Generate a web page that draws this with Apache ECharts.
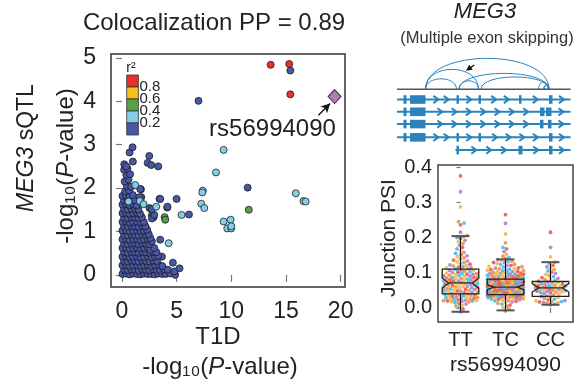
<!DOCTYPE html>
<html><head><meta charset="utf-8">
<script src="https://cdn.jsdelivr.net/npm/echarts@6/dist/echarts.min.js"></script>
<style>html,body{margin:0;padding:0;background:#fff}#c{width:582px;height:387px}</style>
</head><body><div id="c"></div>
<script>
const FONT = '"Liberation Sans", Arial, Helvetica, sans-serif';

// ---------- Scatter: [T1D -log10 P, MEG3 sQTL -log10 P] by LD r2 bin ----------
const xTicks = [0, 5, 10, 15, 20];
const yTicks = [0, 1, 2, 3, 4, 5];
const ldRed = [[13.6,4.84],[15.3,4.86],[15.4,4.16]];
const ldOrange = [];
const ldGreen = [[11.6,1.50],[3.9,1.33],[3.96,1.27]];
const ldLightBlue = [[9.3,2.88],[8.6,2.36],[7.4,1.94],[7.35,1.90],[15.9,1.88],[16.6,1.70],[16.8,1.69],
  [7.25,1.64],[7.53,1.54],[5.45,1.38],[9.3,1.23],[9.94,1.27],[9.63,1.07],[10.0,1.07],[10.0,1.12],
  [1.22,2.07],[1.64,1.70],[1.98,1.63],[3.14,1.57],[4.27,0.73],[0.6,1.69]];
const ldDarkBlue = [
  [15.4,4.71],[7.0,4.01],[11.5,2.01],
  [0.05,0.02],[0.38,0.03],[0.7,0.01],[1.02,0.03],[1.35,0.02],[1.68,0.01],[2.0,0.03],[2.33,0.02],[2.66,0.02],[3.0,0.01],[3.32,0.03],[3.66,0.02],[4.0,0.02],[4.4,0.03],[4.87,0.0],[4.8,0.08],
  [0.2,0.12],[0.52,0.11],[0.85,0.13],[1.18,0.12],[1.52,0.11],[1.85,0.13],[2.18,0.12],[2.5,0.11],[2.84,0.13],[3.17,0.12],[3.5,0.11],[3.85,0.13],[4.2,0.12],[5.27,0.15],[4.66,0.28],
  [0.05,0.22],[0.38,0.23],[0.7,0.21],[1.03,0.22],[1.36,0.23],[1.7,0.21],[2.03,0.22],[2.36,0.23],[2.7,0.21],[3.03,0.22],[3.36,0.23],[3.7,0.2],
  [0.2,0.32],[0.53,0.31],[0.86,0.33],[1.2,0.32],[1.53,0.31],[1.86,0.33],[2.2,0.32],[2.53,0.31],[2.86,0.33],[3.2,0.32],[3.66,0.42],
  [0.05,0.42],[0.38,0.43],[0.7,0.41],[1.03,0.42],[1.36,0.43],[1.7,0.41],[2.03,0.42],[2.36,0.43],[2.7,0.41],[3.03,0.42],[3.3,0.44],
  [0.2,0.52],[0.53,0.51],[0.86,0.53],[1.2,0.52],[1.53,0.51],[1.86,0.53],[2.2,0.52],[2.53,0.51],[2.86,0.53],[3.15,0.52],
  [0.05,0.62],[0.38,0.63],[0.7,0.61],[1.03,0.62],[1.36,0.63],[1.7,0.61],[2.03,0.62],[2.36,0.63],[2.6,0.58],[2.95,0.62],
  [0.2,0.72],[0.53,0.71],[0.86,0.73],[1.2,0.72],[1.53,0.71],[1.86,0.73],[2.2,0.72],[2.5,0.71],[2.74,0.77],[3.5,0.81],
  [0.05,0.82],[0.38,0.83],[0.7,0.81],[1.03,0.82],[1.36,0.83],[1.7,0.81],[2.03,0.82],[2.36,0.83],[2.6,0.85],
  [0.2,0.92],[0.53,0.91],[0.86,0.93],[1.2,0.92],[1.53,0.91],[1.86,0.93],[2.2,0.92],[2.45,0.94],
  [0.05,1.02],[0.38,1.03],[0.7,1.01],[1.03,1.02],[1.36,1.03],[1.7,1.01],[2.0,1.02],[2.3,1.04],
  [0.2,1.12],[0.53,1.11],[0.86,1.13],[1.2,1.12],[1.53,1.11],[1.86,1.13],[2.15,1.12],
  [0.05,1.22],[0.38,1.23],[0.7,1.21],[1.03,1.22],[1.36,1.23],[1.7,1.21],[2.0,1.22],
  [0.2,1.32],[0.53,1.31],[0.86,1.33],[1.2,1.32],[1.53,1.31],[1.82,1.33],[2.74,1.38],[2.89,1.33],[2.74,1.30],
  [0.05,1.42],[0.38,1.43],[0.7,1.41],[1.03,1.42],[1.36,1.43],[1.65,1.41],[2.96,1.38],[6.13,1.39],
  [0.2,1.52],[0.53,1.51],[0.86,1.53],[1.2,1.52],[1.5,1.51],[2.52,1.54],[2.74,1.51],[4.14,1.55],[4.17,1.57],
  [0.05,1.62],[0.38,1.63],[0.7,1.61],[1.05,1.62],[1.35,1.6],
  [0.2,1.72],[0.53,1.71],[0.86,1.73],[1.15,1.72],[1.77,1.79],[1.61,1.79],[3.44,1.75],[3.5,1.75],[5.0,1.75],
  [0.05,1.82],[0.38,1.83],[0.7,1.81],[1.0,1.84],[1.74,1.97],
  [0.3,1.93],[0.65,1.95],[0.45,2.05],[0.85,2.03],[0.25,2.15],[0.6,2.2],[0.4,2.3],[0.75,2.32],[0.2,2.42],[0.5,2.45],
  [0.21,2.55],[0.4,2.5],[1.0,2.61],[0.7,2.82],[0.97,2.94],[1.67,1.98],
  [2.5,2.74],[2.35,2.58],[2.68,2.53],[3.32,2.5]
];
const leadSnp = [[19.45,4.11]];
const leadSnpName = 'rs56994090';
const ldLegendLabels = ['0.8','0.6','0.4','0.2'];

// ---------- Gene model (MEG3), positions in kb ----------
const txRow = [0.82, 1.81, 2.80, 3.87, 4.90];
const txStart = [0, 0, 0, 0, 11.7];
const txEnd = [34.7, 34.7, 34.7, 34.7, 34.7];
const txExons = [
  [[1.3,1.9],[2.6,5.7],[11.9,12.4],[16.3,16.8],[24.4,24.9],[30.4,31.1]],
  [[1.3,1.9],[2.6,5.7],[28.6,29.5],[29.8,30.9]],
  [[1.3,1.9],[2.6,5.7],[28.6,29.3],[30.2,30.9]],
  [[1.3,1.9],[2.6,5.7],[11.9,12.4],[16.3,16.8],[30.4,31.1]],
  [[11.9,12.4],[24.3,25.1],[30.4,31.1]]
];
const junctionStart  = [5.7, 5.7, 12.4, 16.8, 5.7, 12.4, 28.3, 29.5, 29.3];
const junctionEnd    = [30.4, 16.3, 30.4, 30.4, 11.9, 16.3, 30.4, 30.4, 30.2];
const junctionHeight = [2.50, 1.61, 1.29, 1.00, 0.85, 0.69, 0.56, 0.40, 0.32];
const arrowFrom = [15.46, -1.96];
const arrowTo = [13.8, -1.50];

// ---------- Junction PSI by genotype ----------
const genotypes = ['TT','TC','CC'];
const psiTicks = [0, 0.1, 0.2, 0.3, 0.4];
const whiskerLow  = [-0.011, -0.007, 0.009];
const q1          = [0.040, 0.038, 0.033];
const notchLow    = [0.056, 0.052, 0.045];
const median      = [0.071, 0.059, 0.057];
const notchHigh   = [0.085, 0.066, 0.069];
const q3          = [0.110, 0.082, 0.075];
const whiskerHigh = [0.204, 0.138, 0.130];
const psiTT = [0.375,0.330,0.287,0.245,0.241,0.236,0.215,0.207,0.203,0.200,0.197,0.192,0.188,0.183,0.178,0.172,0.168,0.163,0.158,0.155,0.151,0.148,0.146,0.142,0.139,0.136,0.133,0.131,0.129,0.126,0.124,0.122,0.121,0.119,0.117,0.116,0.114,0.113,0.111,0.110,0.108,0.107,0.106,0.104,0.103,0.102,0.101,0.099,0.098,0.097,0.096,0.095,0.094,0.093,0.092,0.091,0.090,0.089,0.088,0.087,0.086,0.085,0.084,0.083,0.082,0.081,0.080,0.079,0.078,0.077,0.077,0.076,0.075,0.074,0.073,0.072,0.072,0.071,0.070,0.069,0.068,0.067,0.066,0.065,0.064,0.063,0.062,0.061,0.060,0.059,0.058,0.057,0.056,0.055,0.054,0.053,0.052,0.051,0.050,0.049,0.048,0.047,0.046,0.045,0.044,0.043,0.042,0.041,0.040,0.039,0.038,0.037,0.036,0.035,0.034,0.033,0.032,0.031,0.030,0.029,0.028,0.027,0.026,0.025,0.024,0.023,0.022,0.021,0.021,0.020,0.020,0.019,0.018,0.017,0.015,0.013,0.011,0.008,0.005,0.002,-0.003,-0.011];
const psiTC = [0.265,0.240,0.210,0.185,0.172,0.168,0.160,0.152,0.147,0.143,0.139,0.137,0.135,0.133,0.131,0.129,0.128,0.126,0.124,0.123,0.121,0.120,0.118,0.117,0.116,0.114,0.113,0.112,0.111,0.110,0.109,0.108,0.107,0.106,0.105,0.104,0.103,0.102,0.101,0.100,0.099,0.099,0.098,0.097,0.096,0.096,0.095,0.094,0.093,0.093,0.092,0.091,0.090,0.090,0.089,0.088,0.087,0.087,0.086,0.085,0.085,0.084,0.083,0.083,0.082,0.081,0.081,0.080,0.080,0.079,0.079,0.078,0.078,0.077,0.077,0.076,0.076,0.075,0.075,0.074,0.074,0.073,0.073,0.072,0.072,0.071,0.071,0.070,0.070,0.069,0.069,0.068,0.068,0.067,0.067,0.066,0.066,0.065,0.065,0.064,0.064,0.063,0.063,0.062,0.062,0.061,0.061,0.060,0.060,0.059,0.059,0.058,0.058,0.057,0.057,0.056,0.056,0.055,0.055,0.054,0.054,0.053,0.053,0.052,0.052,0.051,0.051,0.050,0.050,0.049,0.049,0.048,0.048,0.047,0.047,0.046,0.046,0.045,0.045,0.044,0.044,0.043,0.043,0.042,0.042,0.041,0.041,0.040,0.040,0.039,0.039,0.038,0.038,0.037,0.037,0.036,0.036,0.035,0.035,0.034,0.034,0.033,0.033,0.032,0.032,0.031,0.031,0.030,0.030,0.029,0.029,0.028,0.027,0.026,0.025,0.024,0.023,0.022,0.021,0.020,0.019,0.017,0.015,0.013,0.011,0.008,0.005,0.001,-0.003,-0.007];
const psiCC = [0.215,0.172,0.145,0.130,0.126,0.121,0.117,0.113,0.109,0.105,0.101,0.098,0.095,0.092,0.089,0.086,0.084,0.082,0.080,0.078,0.076,0.074,0.072,0.071,0.070,0.068,0.067,0.066,0.065,0.064,0.063,0.062,0.061,0.060,0.059,0.058,0.057,0.056,0.055,0.054,0.053,0.052,0.051,0.050,0.049,0.048,0.047,0.046,0.045,0.044,0.043,0.041,0.039,0.037,0.035,0.033,0.031,0.029,0.027,0.025,0.023,0.021,0.020,0.019,0.018,0.017,0.016,0.015,0.013,0.011,0.009];

// ---------- styles ----------
const RED='#e8312b', ORANGE='#f5c01a', GREEN='#55a143', LBLUE='#83cfe9', DBLUE='#4857a6';
const GENE='#2a84bb';
const DOTCOLORS=['#e8553f','#f7b536','#3ab7ea','#a87dc4','#f08a3c'];

// beeswarm layout (pixel-based offsets)
function swarm(values, center, pxX, pxY, d, maxW){
  const idx = values.map((v,i)=>i).sort((a,b)=>values[a]-values[b]);
  const placed=[]; const out=[];
  idx.forEach(i=>{
    const y = values[i]*pxY;
    let bestOff=0, bestDist=-1;
    for(let k=0;k<=maxW*4;k++){
      const off = (k%2===1?1:-1)*Math.ceil(k/2)*0.5;
      if(Math.abs(off)>maxW) break;
      let minD=Infinity;
      for(let j=placed.length-1;j>=0;j--){
        const p=placed[j]; if(y-p[1]>d) break;
        const dd=Math.hypot(off-p[0], y-p[1]); if(dd<minD) minD=dd;
      }
      if(minD>=d){bestOff=off;break;}
      if(minD>bestDist){bestDist=minD;bestOff=off;}
    }
    placed.push([bestOff,y]);
    out.push({value:[center+bestOff/pxX, values[i]], itemStyle:{color:DOTCOLORS[(i*3)%5]}});
  });
  return out;
}
const PXX=45, PXY=157/0.446;
const dots = [].concat(swarm(psiTT,0,PXX,PXY,3.6,17), swarm(psiTC,1,PXX,PXY,3.6,18), swarm(psiCC,2,PXX,PXY,3.6,15));

function sc(name,data,color,z){
  return {type:'scatter', name, xAxisIndex:0, yAxisIndex:0, data, symbolSize:7, z:z||2,
    itemStyle:{color, borderColor:'#1a1a1a', borderWidth:0.8, opacity:1}, silent:true};
}

const chart = echarts.init(document.getElementById('c'), null, {renderer:'canvas'});
const axisTxt = {color:'#222', fontFamily:FONT};
const option = {
  animation:false,
  textStyle:{fontFamily:FONT},
  grid:[
    {left:111, top:54, width:234, height:233, show:true, borderColor:'#333', borderWidth:1.5, backgroundColor:'transparent', containLabel:false, outerBoundsMode:'none'},
    {left:397, top:43.7, width:174, height:112.5, show:false, containLabel:false, outerBoundsMode:'none'},
    {left:438, top:165, width:135, height:157, show:true, borderColor:'#444', borderWidth:1.5, backgroundColor:'transparent', containLabel:false, outerBoundsMode:'none'}
  ],
  xAxis:[
    {gridIndex:0, type:'value', min:-1, max:20.4, splitLine:{show:false}, axisLine:{show:false},
      axisTick:{show:true, inside:false, length:7, customValues:xTicks, lineStyle:{color:'#777', width:1.2}},
      axisLabel:{customValues:xTicks, fontSize:23, margin:13, ...axisTxt}},
    {gridIndex:1, type:'value', min:0, max:34.8, show:false},
    {gridIndex:2, type:'value', min:-0.5, max:2.5, splitLine:{show:false}, axisLine:{show:false},
      axisTick:{show:true, inside:false, length:5, customValues:[0,1,2], lineStyle:{color:'#777', width:1.2}},
      axisLabel:{customValues:[0,1,2], formatter:v=>genotypes[Math.round(v)], fontSize:20, margin:8, ...axisTxt}}
  ],
  yAxis:[
    {gridIndex:0, type:'value', min:-0.28, max:5.09, splitLine:{show:false}, axisLine:{show:false},
      axisTick:{show:true, inside:false, length:6, customValues:yTicks, lineStyle:{color:'#777', width:1.2}},
      axisLabel:{customValues:yTicks, fontSize:23, margin:15, ...axisTxt}},
    {gridIndex:1, type:'value', min:-3.68, max:5.39, inverse:true, show:false},
    {gridIndex:2, type:'value', min:-0.04, max:0.406, splitLine:{show:false}, axisLine:{show:false},
      axisTick:{show:true, inside:false, length:4, customValues:psiTicks, lineStyle:{color:'#777', width:1.2}},
      axisLabel:{customValues:psiTicks, formatter:v=>v.toFixed(1), fontSize:20, margin:6, ...axisTxt}}
  ],
  series:[
    sc('0-0.2', ldDarkBlue, DBLUE, 2),
    sc('0.2-0.4', ldLightBlue, LBLUE, 3),
    sc('0.4-0.6', ldGreen, GREEN, 4),
    sc('0.6-0.8', ldOrange, ORANGE, 5),
    sc('0.8-1', ldRed, RED, 6),
    {type:'scatter', name:leadSnpName, xAxisIndex:0, yAxisIndex:0, data:leadSnp, symbol:'diamond', symbolSize:[13,14], z:7,
      itemStyle:{color:'#a35aa7', borderColor:'#111', borderWidth:1},
      markLine:{silent:true, symbol:['none','arrow'], symbolSize:[7,9], label:{show:false},
        lineStyle:{color:'#111', width:1.3, type:'solid'},
        data:[[{coord:[17.97,3.68]},{coord:[19.04,3.95]}]]}},
    // junction arcs
    {type:'custom', xAxisIndex:1, yAxisIndex:1, z:3, silent:true,
      data: junctionStart.map((s,i)=>[s, junctionEnd[i], junctionHeight[i]]),
      renderItem:(params, api)=>{
        const a=api.coord([api.value(0),0]), b=api.coord([api.value(1),0]);
        const top=api.coord([0,-api.value(2)]); const base=api.coord([0,0]);
        const h=(base[1]-top[1])*4/3;
        return {type:'bezierCurve', shape:{x1:a[0],y1:a[1],x2:b[0],y2:b[1],cpx1:a[0],cpy1:a[1]-h,cpx2:b[0],cpy2:b[1]-h},
          style:{stroke:GENE, lineWidth:1, fill:null}};
      }},
    // gene baseline + pointer arrow
    {type:'custom', xAxisIndex:1, yAxisIndex:1, z:4, silent:true,
      data:[[0,34.7]],
      renderItem:(params, api)=>{
        const a=api.coord([api.value(0),0]), b=api.coord([api.value(1),0]);
        const f=api.coord(arrowFrom), t=api.coord(arrowTo);
        const ang=Math.atan2(t[1]-f[1], t[0]-f[0]);
        const L=6, W=3;
        const hx=t[0]-L*Math.cos(ang), hy=t[1]-L*Math.sin(ang);
        return {type:'group', children:[
          {type:'line', shape:{x1:a[0],y1:a[1],x2:b[0],y2:b[1]}, style:{stroke:'#555', lineWidth:1.5}},
          {type:'line', shape:{x1:f[0],y1:f[1],x2:hx,y2:hy}, style:{stroke:'#111', lineWidth:1.3}},
          {type:'polygon', shape:{points:[[t[0],t[1]],[hx+W*Math.sin(ang),hy-W*Math.cos(ang)],[hx-W*Math.sin(ang),hy+W*Math.cos(ang)]]}, style:{fill:'#111'}}
        ]};
      }},
    // transcripts
    {type:'custom', xAxisIndex:1, yAxisIndex:1, z:3, silent:true,
      data: txRow.map((y,i)=>[txStart[i], y]),
      renderItem:(params, api)=>{
        const r=params.dataIndex, yv=txRow[r], s=txStart[r], e=txEnd[r], ex=txExons[r];
        const p0=api.coord([s,yv]), p1=api.coord([e,yv]);
        const ch=[{type:'line', shape:{x1:p0[0],y1:p0[1],x2:p1[0],y2:p1[1]}, style:{stroke:GENE, lineWidth:2}}];
        ex.forEach(([a,b])=>{const pa=api.coord([a,yv]), pb=api.coord([b,yv]);
          ch.push({type:'rect', shape:{x:pa[0], y:pa[1]-4.3, width:Math.max(pb[0]-pa[0],2.5), height:8.6}, style:{fill:GENE}});});
        const feats=[[s,s]].concat(ex).concat([[e,e]]);
        for(let k=0;k<feats.length-1;k++){
          const g0=feats[k][1], g1=feats[k+1][0], len=g1-g0, n=Math.floor(len/3);
          for(let j=1;j<=n;j++){const c=api.coord([g0+len*j/(n+1), yv]);
            ch.push({type:'polyline', shape:{points:[[c[0]-2.5,c[1]-3.6],[c[0]+2.5,c[1]],[c[0]-2.5,c[1]+3.6]]}, style:{stroke:GENE, lineWidth:2, fill:null}});}
        }
        return {type:'group', children:ch};
      }},
    {type:'scatter', xAxisIndex:2, yAxisIndex:2, data:dots, symbolSize:3.8, z:4, silent:true,
      itemStyle:{opacity:0.85}},
    // notched boxes (drawn over the dots)
    {type:'custom', xAxisIndex:2, yAxisIndex:2, z:6, silent:true,
      data: genotypes.map((g,i)=>[i, whiskerLow[i], q1[i], notchLow[i], median[i], notchHigh[i], q3[i], whiskerHigh[i]]),
      renderItem:(params, api)=>{
        const i=api.value(0);
        const c=api.coord([i,0])[0];
        const Y=k=>api.coord([i,api.value(k)])[1];
        const hw=18.3, ind=6.5, cap=9;
        const L=c-hw, R=c+hw;
        const wl=Y(1), bq1=Y(2), nl=Y(3), md=Y(4), nh=Y(5), bq3=Y(6), wh=Y(7);
        return {type:'group', children:[
          {type:'line', shape:{x1:c,y1:bq3,x2:c,y2:wh}, style:{stroke:'#111', lineWidth:1}},
          {type:'line', shape:{x1:c,y1:bq1,x2:c,y2:wl}, style:{stroke:'#111', lineWidth:1}},
          {type:'line', shape:{x1:c-cap,y1:wh,x2:c+cap,y2:wh}, style:{stroke:'#555', lineWidth:2}},
          {type:'line', shape:{x1:c-cap,y1:wl,x2:c+cap,y2:wl}, style:{stroke:'#555', lineWidth:2}},
          {type:'polygon', shape:{points:[[L,bq3],[R,bq3],[R,nh],[R-ind,md],[R,nl],[R,bq1],[L,bq1],[L,nl],[L+ind,md],[L,nh]]},
            style:{stroke:'#222', lineWidth:1.3, fill:'rgba(255,255,255,0)'}},
          {type:'line', shape:{x1:L+ind,y1:md,x2:R-ind,y2:md}, style:{stroke:'#333', lineWidth:1.3}}
        ]};
      }}
  ],
  graphic:[
    {type:'text', x:214, y:23, style:{text:'Colocalization PP = 0.89', fontSize:24, fontFamily:FONT, fill:'#222', textAlign:'center', textVerticalAlign:'middle'}},
    {type:'text', x:27, y:148, rotation:Math.PI/2, style:{text:'{it|MEG3} sQTL', fontSize:23, fontFamily:FONT, fill:'#222', textAlign:'center', textVerticalAlign:'middle',
      rich:{it:{fontStyle:'italic', fontSize:23, fontFamily:FONT, fill:'#222'}}}},
    {type:'text', x:66, y:166, rotation:Math.PI/2, style:{text:'-log\u2081\u2080({it|P}-value)', fontSize:24, fontFamily:FONT, fill:'#222', textAlign:'center', textVerticalAlign:'middle',
      rich:{it:{fontStyle:'italic', fontSize:24, fontFamily:FONT, fill:'#222'}}}},
    {type:'text', x:218, y:337, style:{text:'T1D', fontSize:24, fontFamily:FONT, fill:'#222', textAlign:'center', textVerticalAlign:'middle'}},
    {type:'text', x:220, y:367, style:{text:'-log\u2081\u2080({it|P}-value)', fontSize:24, fontFamily:FONT, fill:'#222', textAlign:'center', textVerticalAlign:'middle',
      rich:{it:{fontStyle:'italic', fontSize:24, fontFamily:FONT, fill:'#222'}}}},
    {type:'text', x:272.5, y:129, style:{text:leadSnpName, fontSize:24, fontFamily:FONT, fill:'#222', textAlign:'center', textVerticalAlign:'middle'}},
    // LD legend
    {type:'text', x:131, y:68, style:{text:'r\u00b2', fontSize:14, fontFamily:FONT, fill:'#222', textAlign:'center', textVerticalAlign:'middle'}},
    ...[RED,ORANGE,GREEN,LBLUE,DBLUE].map((c,i)=>({type:'rect', shape:{x:126.7, y:75+i*12, width:11.7, height:12}, style:{fill:c, stroke:'#333', lineWidth:0.8}})),
    ...ldLegendLabels.map((t,i)=>({type:'text', x:139.5, y:86.5+i*12, style:{text:t, fontSize:15, fontFamily:FONT, fill:'#222', textAlign:'left', textVerticalAlign:'middle'}})),
    // gene panel titles
    {type:'text', x:485, y:12, style:{text:'MEG3', fontSize:22, fontStyle:'italic', fontFamily:FONT, fill:'#222', textAlign:'center', textVerticalAlign:'middle'}},
    {type:'text', x:487, y:38.5, style:{text:'(Multiple exon skipping)', fontSize:16.5, fontFamily:FONT, fill:'#333', textAlign:'center', textVerticalAlign:'middle'}},
    // box panel
    {type:'text', x:389, y:238, rotation:Math.PI/2, style:{text:'Junction PSI', fontSize:21, fontFamily:FONT, fill:'#222', textAlign:'center', textVerticalAlign:'middle'}},
    {type:'text', x:505.5, y:365, style:{text:leadSnpName, fontSize:21, fontFamily:FONT, fill:'#222', textAlign:'center', textVerticalAlign:'middle'}}
  ]
};
chart.setOption(option);
</script></body></html>
